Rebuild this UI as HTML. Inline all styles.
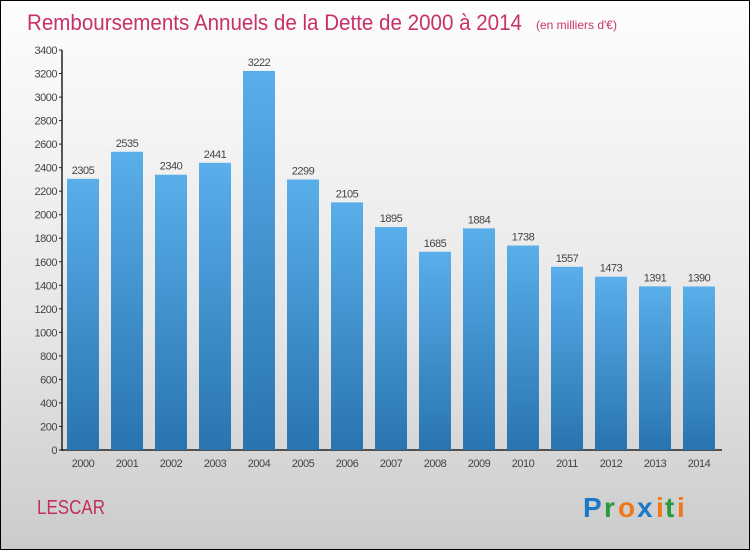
<!DOCTYPE html>
<html><head><meta charset="utf-8"><style>
html,body{margin:0;padding:0}
body{width:750px;height:550px;overflow:hidden;font-family:"Liberation Sans",sans-serif}
#wrap{position:relative;width:748px;height:548px;border:1px solid #000;background:linear-gradient(#fdfdfd,#e6e6e6 60%,#cbcbcb)}
</style></head><body>
<div id="wrap">
<svg id="chart" width="748" height="548" style="position:absolute;left:0;top:0">
<defs><linearGradient id="bg" x1="0" y1="0" x2="0" y2="1"><stop offset="0" stop-color="#5aaeea"/><stop offset="1" stop-color="#2874b0"/></linearGradient></defs>
<text x="26" y="29" font-size="22" fill="#c8306a" textLength="495" lengthAdjust="spacingAndGlyphs">Remboursements Annuels de la Dette de 2000 à 2014</text>
<text x="535" y="28" font-size="12" fill="#c8306a">(en milliers d'€)</text>
<g id="axes"></g><g id="bars"></g>
<text x="36" y="513" font-size="20" fill="#c0305a" textLength="68" lengthAdjust="spacingAndGlyphs">LESCAR</text>
<g font-size="28" font-family="'Liberation Sans',sans-serif" font-weight="bold">
<text x="582" y="516" fill="#1e78c8">P</text><text x="603" y="516" fill="#2a9a3a">r</text><text x="617" y="516" fill="#f07818">o</text><text x="636" y="516" fill="#1e78c8">x</text><text x="655" y="516" fill="#f07818">i</text><text x="664" y="516" fill="#2a9a3a">t</text><text x="676" y="516" fill="#f07818">i</text>
</g>
</svg></div>
<script>
const years=["2000","2001","2002","2003","2004","2005","2006","2007","2008","2009","2010","2011","2012","2013","2014"];
const values=[2305,2535,2340,2441,3222,2299,2105,1895,1685,1884,1738,1557,1473,1391,1390];
const ticks=[0,200,400,600,800,1000,1200,1400,1600,1800,2000,2200,2400,2600,2800,3000,3200,3400];
const NS="http://www.w3.org/2000/svg";
const y=v=>449-v*400/3400;
const x=i=>66+i*44;
const ax=document.getElementById('axes'),bs=document.getElementById('bars');
function mk(t,a,p){const e=document.createElementNS(NS,t);for(const k in a)e.setAttribute(k,a[k]);p.appendChild(e);return e;}
let l=mk('line',{x1:61,y1:49,x2:61,y2:450,stroke:'#222','stroke-width':1.5},ax);


l=mk('line',{x1:61,y1:449,x2:721,y2:449,stroke:'#222','stroke-width':1.5},ax);


ticks.forEach(t=>{
 mk('line',{x1:58,y1:y(t),x2:61,y2:y(t),stroke:'#222'},ax);
 const tx=mk('text',{x:56,y:y(t)+4,'font-size':11,'text-anchor':'end',fill:'#444','letter-spacing':'-0.5'},ax);
 tx.textContent=t;
 
 
});
values.forEach((v,i)=>{
 const r=mk('rect',{x:x(i),y:y(v),width:32,height:449-y(v),fill:'url(#bg)'},bs);
 
 
 const vt=mk('text',{x:x(i)+16,y:y(v)-5,'font-size':11,'text-anchor':'middle',fill:'#444','letter-spacing':'-0.5'},bs);
 vt.textContent=v;
 
 
 const xt=mk('text',{x:x(i)+16,y:466,'font-size':11,'text-anchor':'middle',fill:'#444','letter-spacing':'-0.5'},ax);
 xt.textContent=years[i];
 
 
});
</script>
</body></html>
